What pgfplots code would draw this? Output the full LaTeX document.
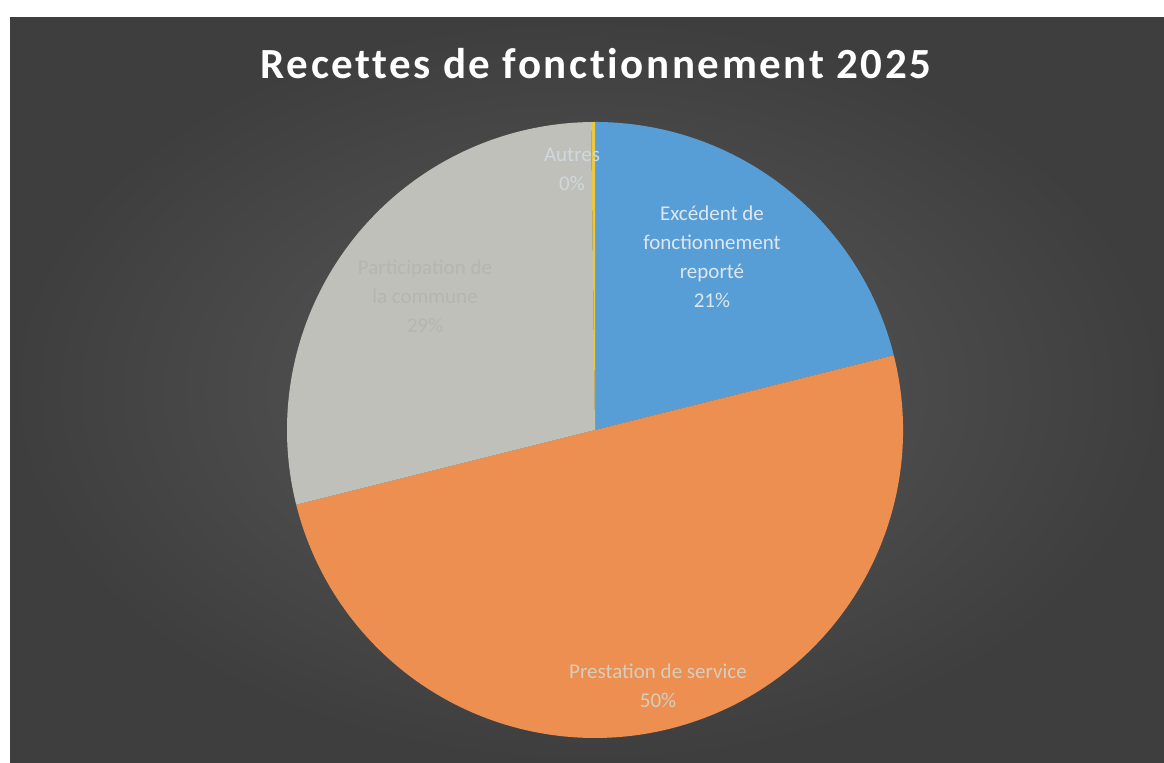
\documentclass[border=0pt]{standalone}
\usepackage{pgfplots}
\pgfplotsset{compat=1.18}
\usepackage{pgfplotstable}
\usepackage{fontspec}
\setmainfont{Carlito}
\newfontfamily\titlefont[LetterSpace=6,Ligatures=NoCommon]{Carlito}
\definecolor{cBlue}{RGB}{88,158,214}
\definecolor{cOrange}{RGB}{236,143,80}
\definecolor{cGrey}{RGB}{191,192,186}
\definecolor{cYellow}{RGB}{238,200,60}
\definecolor{bgIn}{RGB}{90,90,90}
\definecolor{bgOut}{RGB}{62,62,62}
\definecolor{lblBlue}{RGB}{222,230,238}
\definecolor{lblOrange}{RGB}{214,205,190}
\definecolor{lblGrey}{RGB}{180,182,176}

% values in percent: Excedent, Prestation, Participation, Autres
\pgfplotstableread{
value
21.1
50.0
28.7
0.2
}\piedata

\newcommand{\sector}[3]{%
  \fill[#1] (axis cs:595,-430) -- (axis cs:{595+308*cos(#2)},{-430+308*sin(#2)})
    arc[start angle=#2,end angle=#3,radius=308] -- cycle;}

\begin{document}
\begin{tikzpicture}
\pgfplotstablegetelem{0}{value}\of\piedata \let\vA\pgfplotsretval
\pgfplotstablegetelem{1}{value}\of\piedata \let\vB\pgfplotsretval
\pgfplotstablegetelem{2}{value}\of\piedata \let\vC\pgfplotsretval
\pgfplotstablegetelem{3}{value}\of\piedata \let\vD\pgfplotsretval
\pgfmathsetmacro{\aA}{90}
\pgfmathsetmacro{\aB}{\aA-3.6*\vA}
\pgfmathsetmacro{\aC}{\aB-3.6*\vB}
\pgfmathsetmacro{\aD}{\aC-3.6*\vC}
\pgfmathsetmacro{\aE}{\aD-3.6*\vD}
\begin{axis}[width=582pt,height=381.5pt,scale only axis,
  xmin=0,xmax=1164,ymin=-763,ymax=0,hide axis,clip=false]
\fill[white] (axis cs:0,0) rectangle (axis cs:1164,-763);
\shade[inner color=bgIn,outer color=bgOut] (axis cs:10,-18) rectangle (axis cs:1164,-763);
\sector{cBlue}{\aA}{\aB}
\sector{cOrange}{\aB}{\aC}
\sector{cGrey}{\aC}{\aD}
\sector{cYellow}{\aD}{\aE}
\node[white,font=\titlefont\bfseries\fontsize{21.5}{25}\selectfont] at (axis cs:596,-64) {Recettes de fonctionnement 2025};
\node[lblBlue,align=center,font=\fontsize{10.5}{14.5}\selectfont] at (axis cs:712,-257) {Excédent de\\fonctionnement\\reporté\\21\%};
\node[lblOrange,align=center,font=\fontsize{10.5}{14.5}\selectfont] at (axis cs:658,-686) {Prestation de service\\50\%};
\node[lblGrey,align=center,font=\fontsize{10.5}{14.5}\selectfont] at (axis cs:425,-296) {Participation de\\la commune\\29\%};
\node[lblBlue!85!gray,align=center,font=\fontsize{10.5}{14.5}\selectfont] at (axis cs:572,-169) {Autres\\0\%};
\end{axis}
\end{tikzpicture}
\end{document}
